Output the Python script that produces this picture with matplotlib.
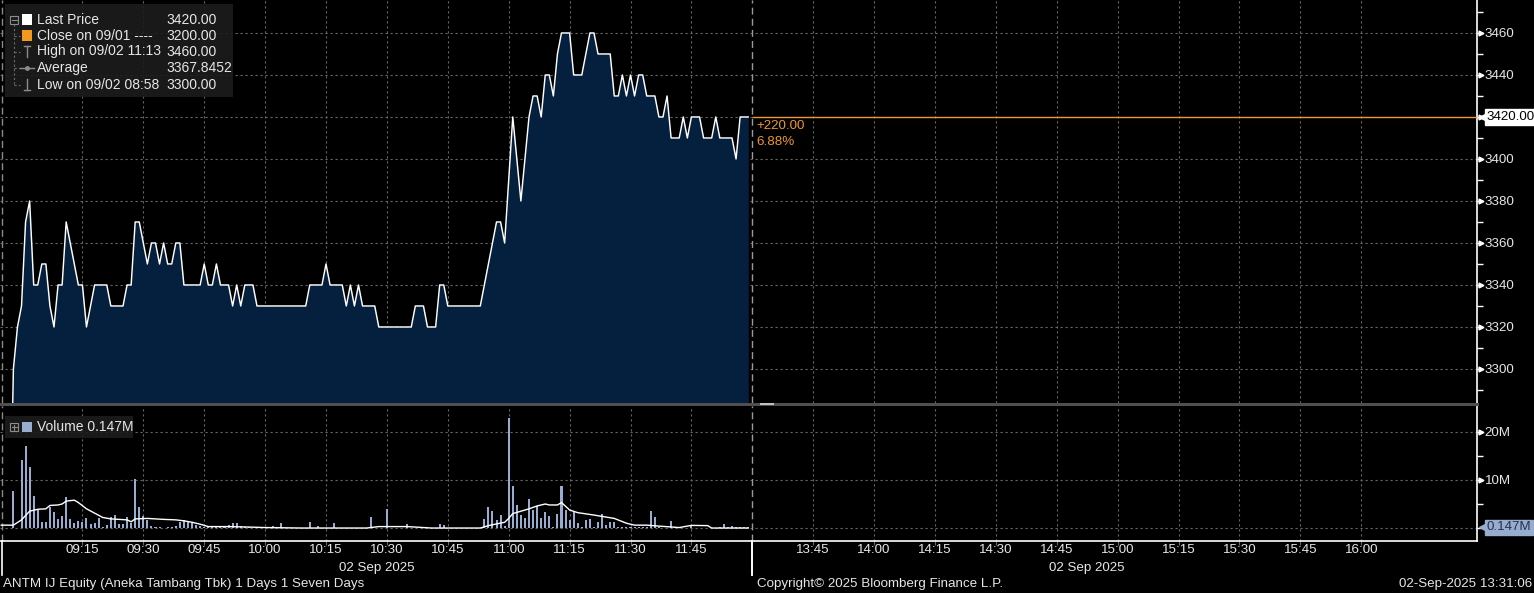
import matplotlib
matplotlib.use("Agg")
import matplotlib.pyplot as plt
import matplotlib.transforms as mtransforms
from matplotlib.patches import Rectangle
from matplotlib.lines import Line2D
import pandas as pd

# ---------------- data ----------------
price_times = pd.date_range("2025-09-02 08:57", "2025-09-02 11:59", freq="1min").strftime("%H:%M").tolist()

price = [
    3200, 3300, 3320,                                                   # 08:57-08:59
    3330, 3370, 3380, 3340, 3340, 3350, 3350, 3330, 3320, 3340,         # 09:00
    3340, 3370, 3360, 3350, 3340, 3340, 3320, 3330, 3340, 3340,         # 09:10
    3340, 3340, 3330, 3330, 3330, 3330, 3340, 3340, 3370, 3370,         # 09:20
    3360, 3350, 3360, 3360, 3350, 3360, 3350, 3350, 3360, 3360,         # 09:30
    3340, 3340, 3340, 3340, 3340, 3350, 3340, 3340, 3350, 3340,         # 09:40
    3340, 3340, 3330, 3340, 3330, 3340, 3340, 3340, 3330, 3330,         # 09:50
    3330, 3330, 3330, 3330, 3330, 3330, 3330, 3330, 3330, 3330,         # 10:00
    3330, 3340, 3340, 3340, 3340, 3350, 3340, 3340, 3340, 3340,         # 10:10
    3330, 3340, 3330, 3340, 3330, 3330, 3330, 3330, 3320, 3320,         # 10:20
    3320, 3320, 3320, 3320, 3320, 3320, 3320, 3330, 3330, 3330,         # 10:30
    3320, 3320, 3320, 3340, 3340, 3330, 3330, 3330, 3330, 3330,         # 10:40
    3330, 3330, 3330, 3330, 3340, 3350, 3360, 3370, 3370, 3360,         # 10:50
    3390, 3420, 3400, 3380, 3400, 3420, 3430, 3430, 3420, 3440,         # 11:00
    3440, 3430, 3450, 3460, 3460, 3460, 3440, 3440, 3440, 3450,         # 11:10
    3460, 3460, 3450, 3450, 3450, 3450, 3430, 3430, 3440, 3430,         # 11:20
    3440, 3430, 3440, 3440, 3430, 3430, 3430, 3420, 3420, 3430,         # 11:30
    3410, 3410, 3410, 3420, 3410, 3420, 3420, 3420, 3410, 3410,         # 11:40
    3410, 3420, 3410, 3410, 3410, 3410, 3400, 3420, 3420, 3420,         # 11:50
]

volume_m = [
    0.0, 7.7, 0.0,                                                      # 08:57-08:59
    14.2, 17.1, 12.6, 6.7, 3.9, 1.3, 1.2, 4.4, 3.3, 1.9,                # 09:00
    2.5, 6.5, 1.9, 1.1, 1.5, 1.2, 2.1, 0.9, 1.0, 2.0,                   # 09:10
    0.3, 0.6, 2.3, 2.7, 0.8, 0.8, 2.2, 1.0, 10.3, 4.4,                  # 09:20
    2.6, 1.7, 0.5, 0.3, 0.3, 0.1, 0.3, 0.3, 0.4, 1.25,                  # 09:30
    1.6, 1.2, 1.0, 0.6, 0.5, 0.3, 0.15, 0.15, 0.15, 0.2,                # 09:40
    0.35, 0.6, 1.0, 1.0, 0.4, 0.3, 0.2, 0.1, 0.1, 0.1,                  # 09:50
    0.1, 0.1, 0.35, 0.1, 1.0, 0.1, 0.1, 0.1, 0.1, 0.05,                 # 10:00
    0.1, 1.2, 0.1, 0.35, 0.1, 0.1, 0.1, 1.0, 0.1, 0.1,                  # 10:10
    0.1, 0.1, 0.1, 0.1, 0.1, 0.1, 2.2, 0.1, 0.1, 0.1,                   # 10:20
    4.0, 0.1, 0.1, 0.1, 0.1, 0.8, 0.1, 0.1, 0.1, 0.1,                   # 10:30
    0.1, 0.1, 0.1, 0.8, 0.6, 0.1, 0.1, 0.1, 0.1, 0.1,                   # 10:40
    0.1, 0.1, 0.1, 0.1, 1.9, 4.4, 3.5, 1.7, 2.7, 0.5,                   # 10:50
    23.0, 8.75, 4.8, 2.7, 2.1, 6.0, 3.75, 4.6, 2.1, 3.3,                # 11:00
    2.4, 0.2, 2.9, 8.75, 3.75, 1.6, 3.5, 1.1, 0.2, 1.7,                 # 11:10
    1.9, 0.2, 1.25, 2.9, 0.7, 1.25, 1.25, 0.2, 0.15, 0.15,              # 11:20
    0.15, 0.15, 0.15, 0.15, 0.15, 3.5, 2.3, 0.2, 0.1, 0.1,              # 11:30
    1.5, 0.2, 0.1, 0.1, 0.1, 0.4, 0.1, 0.1, 0.1, 0.1,                   # 11:40
    0.1, 0.1, 0.2, 0.8, 0.2, 0.4, 0.2, 0.2, 0.2, 0.15,                  # 11:50
]

avg_times = ["08:55", "08:58", "09:00", "09:02", "09:04", "09:06", "09:07", "09:09", "09:10",
             "09:11", "09:13", "09:14", "09:16", "09:18", "09:20", "09:22", "09:26", "09:27",
             "09:28", "09:31", "09:35", "09:38", "09:40", "09:42", "09:44", "09:46", "09:51",
             "09:56", "10:00", "10:09", "10:17", "10:25", "10:28", "10:35", "10:41", "10:53",
             "10:55", "10:59", "11:00", "11:01", "11:05", "11:07", "11:09", "11:10", "11:12",
             "11:13", "11:15", "11:17", "11:21", "11:26", "11:29", "11:31", "11:34", "11:37",
             "11:42", "11:45", "11:49", "11:50", "11:59"]
avg_vol_m = [0.6, 0.6, 1.7, 3.5, 3.9, 4.0, 4.7, 4.8, 5.0,
             5.6, 5.8, 5.3, 4.0, 3.1, 2.2, 1.9, 1.7, 1.3,
             1.9, 2.0, 1.8, 1.7, 1.5, 1.2, 0.8, 0.3, 0.3,
             0.2, 0.1, 0.0, 0.0, 0.0, 0.3, 0.3, 0.0, 0.0,
             0.5, 1.2, 2.0, 3.0, 4.0, 4.6, 5.0, 4.8, 4.8,
             5.3, 3.75, 3.2, 2.7, 2.0, 1.0, 0.6, 0.6, 0.4,
             0.1, 0.55, 0.5, 0.0, 0.0]

x_tick_labels = ["09:15", "09:30", "09:45", "10:00", "10:15", "10:30", "10:45", "11:00", "11:15",
                 "11:30", "11:45", "13:45", "14:00", "14:15", "14:30", "14:45", "15:00", "15:15",
                 "15:30", "15:45", "16:00"]
price_ticks = [3300, 3320, 3340, 3360, 3380, 3400, 3420, 3440, 3460]
price_minor_ticks = [3290, 3310, 3330, 3350, 3370, 3390, 3410, 3430, 3450, 3470]
vol_ticks = [0, 10, 20]
vol_tick_labels = ["", "10M", "20M"]
vol_minor_ticks = [5, 15]

last_price = 3420.00
prev_close = 3200.00
legend_names = ["Last Price", "Close on 09/01 ----", "High on 09/02 11:13", "Average", "Low on 09/02 08:58"]
legend_values = ["3420.00", "3200.00", "3460.00", "3367.8452", "3300.00"]
volume_last_m = 0.147
session_edges = [("08:55", "12:00"), ("13:30", "16:15")]
date_label = "02 Sep 2025"
footer_left = "ANTM IJ Equity (Aneka Tambang Tbk) 1 Days 1 Seven Days"
footer_mid = "Copyright\u00a9 2025 Bloomberg Finance L.P."
footer_right = "02-Sep-2025 13:31:06"

# ---------------- helpers ----------------
def tx(s):
    h, m = map(int, s.split(":"))
    t = h * 60 + m - 9 * 60
    return t - 90 if t >= 270 else t

W, H = 1534, 593
plt.rcParams["font.family"] = ["Liberation Sans", "DejaVu Sans"]
FS = 9.6
TXT = "#e6e6e6"
GRID = "#666666"
NAVY = "#05203f"
ORANGE = "#f0962e"
VOLC = "#98acd0"

def fx(x):
    return x / W

def fy(y):
    return 1 - y / H

fig = plt.figure(figsize=(W / 100, H / 100), dpi=100, facecolor="black")
ax = fig.add_axes([0, fy(403), fx(1477), 403 / H])
axv = fig.add_axes([0, fy(541), fx(1477), (541 - 406) / H])

xs = [tx(t) for t in price_times]
xlim = (tx("08:55") - 0.3, tx("16:28") + 0.5)
tick_x = [tx(s) for s in x_tick_labels]

for a in (ax, axv):
    a.set_facecolor("black")
    a.set_xlim(*xlim)
    for s in ("left", "top", "bottom"):
        a.spines[s].set_visible(False)
    a.spines["right"].set_color("white")
    a.spines["right"].set_linewidth(1.2)
    a.set_xticks(tick_x)
    a.xaxis.grid(True, color=GRID, linestyle=(0, (2, 2.5)), linewidth=0.8)
    a.yaxis.grid(True, which="major", color=GRID, linestyle=(0, (2, 2.5)), linewidth=0.8)
    a.set_axisbelow(True)
    a.yaxis.tick_right()
    for e0, e1 in session_edges[:1]:
        a.axvline(tx(e0) + 0.2, color="#8a8a8a", lw=1.0, ls=(0, (5, 3)), zorder=1)
        a.axvline(tx(e1), color="#9a9a9a", lw=1.0, ls=(0, (5, 3)), zorder=4)

# ---------------- price panel ----------------
ax.set_ylim(3283.8, 3475.7)
ax.fill_between(xs, price, 3200, color=NAVY, lw=0, zorder=2)
ax.plot(xs, price, color="white", lw=1.05, zorder=3)
ax.hlines(last_price, tx("12:00"), xlim[1], color=ORANGE, lw=1.0, zorder=3)

ax.set_yticks(price_ticks)
ax.set_yticklabels(["" if v == last_price else str(v) for v in price_ticks])
ax.set_yticks(price_minor_ticks, minor=True)
ax.tick_params(axis="y", which="major", length=3, width=1, color="white", pad=2.5,
               labelsize=FS, labelcolor=TXT)
ax.tick_params(axis="y", which="minor", length=4, width=1, color="white")
ax.tick_params(axis="x", length=0, labelbottom=False)

yt = ax.get_yaxis_transform()
arrow_off = mtransforms.ScaledTranslation(3.5 / 100, 0, fig.dpi_scale_trans)
ax.plot([1] * len(price_ticks), price_ticks, ls="none", marker=">", ms=3.5, color="white",
        transform=yt + arrow_off, clip_on=False)

chg = last_price - prev_close
ax.annotate(f"+{chg:.2f}", (tx("12:00"), last_price), xytext=(3, -6.5), textcoords="offset points",
            color=ORANGE, fontsize=FS, va="center", ha="left")
ax.annotate(f"{chg / prev_close * 100:.2f}%", (tx("12:00"), last_price), xytext=(3, -18),
            textcoords="offset points", color=ORANGE, fontsize=FS, va="center", ha="left")

lp_off = mtransforms.ScaledTranslation(9.5 / 100, 0, fig.dpi_scale_trans)
ax.text(1, last_price, f"{last_price:.2f}", transform=yt + lp_off, ha="left", va="center",
        fontsize=FS, color="black", clip_on=False, zorder=10,
        bbox=dict(boxstyle="square,pad=0.12", fc="white", ec="white"))
tri_off = mtransforms.ScaledTranslation(6.5 / 100, 0, fig.dpi_scale_trans)
ax.plot([1], [last_price], marker="<", ms=7, color="white", transform=yt + tri_off,
        clip_on=False, zorder=9)

# ---------------- volume panel ----------------
axv.set_ylim(-2.7, 25.4)
axv.bar([tx(t) for t in price_times], volume_m, width=0.5, color=VOLC, lw=0, zorder=2)
axv.plot([tx(t) for t in avg_times], avg_vol_m, color="white", lw=1.0, zorder=3)
axv.set_yticks(vol_ticks)
axv.set_yticklabels(vol_tick_labels)
axv.set_yticks(vol_minor_ticks, minor=True)
axv.tick_params(axis="y", which="major", length=3, width=1, color="white", pad=2.5,
                labelsize=FS, labelcolor=TXT)
axv.tick_params(axis="y", which="minor", length=4, width=1, color="white")
yv = axv.get_yaxis_transform()
axv.plot([1] * 2, vol_ticks[1:], ls="none", marker=">", ms=3.5, color="white",
         transform=yv + arrow_off, clip_on=False)
axv.spines["bottom"].set_visible(True)
axv.spines["bottom"].set_color("white")
axv.spines["bottom"].set_linewidth(1.2)
axv.set_xticklabels(x_tick_labels)
axv.tick_params(axis="x", length=3, color=GRID, pad=-0.5, labelsize=FS, labelcolor=TXT)

axv.text(1, volume_last_m, f"{volume_last_m:.3f}M", transform=yv + lp_off, ha="left", va="center",
         fontsize=FS, color="#25324d", clip_on=False, zorder=10,
         bbox=dict(boxstyle="square,pad=0.12", fc=VOLC, ec=VOLC))
axv.plot([1], [volume_last_m], marker="<", ms=7, color=VOLC, transform=yv + tri_off,
         clip_on=False, zorder=9)

# session separators below the axis and date labels
bt = mtransforms.blended_transform_factory(axv.transData, fig.transFigure)
for e0, e1 in session_edges:
    for e in (e0, e1):
        if e == "16:15":
            continue
        xv = tx(e) + (0.2 if e == "08:55" else 0)
        fig.add_artist(Line2D([xv, xv], [fy(541), fy(575)], color="white", lw=1.2, transform=bt))
    fig.text((tx(e0) + tx(e1)) / 2, fy(567.5), date_label, transform=bt, ha="center", va="center",
             fontsize=FS, color=TXT)

# panel separator
fig.add_artist(Rectangle((0, fy(406)), fx(1479), 3.5 / H, transform=fig.transFigure,
                         color="#4f4f4f", lw=0))
fig.add_artist(Rectangle((fx(760), fy(405.3)), fx(14), 2.6 / H, transform=fig.transFigure,
                         color="#c0c0c0", lw=0))
fig.add_artist(Rectangle((fx(760), fy(404.3)), fx(14), 0.7 / H, transform=fig.transFigure,
                         color="#606060", lw=0))

# ---------------- legends ----------------
fig.add_artist(Rectangle((fx(5), fy(97)), fx(228), 93 / H, transform=fig.transFigure,
                         color="#1c1c1c", alpha=0.9, lw=0, zorder=5))
rows = [19.5, 35.5, 51.5, 68, 84.5]
icon_c = "#8c8c8c"
fig.add_artist(Line2D([fx(14), fx(14)], [fy(24), fy(84)], color="#6a6a6a", lw=0.8,
                      ls=(0, (2, 2)), transform=fig.transFigure, zorder=6))
for r in rows[1:]:
    fig.add_artist(Line2D([fx(14), fx(20)], [fy(r), fy(r)], color="#6a6a6a", lw=0.8,
                          ls=(0, (2, 2)), transform=fig.transFigure, zorder=6))
fig.add_artist(Rectangle((fx(10), fy(23.5)), fx(8), 8 / H, transform=fig.transFigure,
                         fill=False, ec=icon_c, lw=0.8, zorder=6))
fig.add_artist(Line2D([fx(11.5), fx(16.5)], [fy(19.5), fy(19.5)], color=icon_c, lw=0.8,
                      transform=fig.transFigure, zorder=6))
fig.add_artist(Rectangle((fx(22), fy(24.5)), fx(10), 10 / H, transform=fig.transFigure,
                         color="white", lw=0, zorder=6))
fig.add_artist(Rectangle((fx(22), fy(40.5)), fx(10), 10 / H, transform=fig.transFigure,
                         color="#f39a1e", lw=0, zorder=6))
for seg in (([27, 27], [46, 57]), ([24, 30], [46, 46])):
    fig.add_artist(Line2D([fx(v) for v in seg[0]], [fy(v) for v in seg[1]], color=icon_c, lw=1,
                          transform=fig.transFigure, zorder=6))
fig.add_artist(Line2D([fx(20), fx(34)], [fy(68), fy(68)], color=icon_c, lw=1,
                      transform=fig.transFigure, zorder=6))
fig.add_artist(Line2D([fx(27)], [fy(68)], color=icon_c, marker="o", ms=2.5,
                      transform=fig.transFigure, zorder=6))
for seg in (([27, 27], [79, 90]), ([24, 30], [90, 90])):
    fig.add_artist(Line2D([fx(v) for v in seg[0]], [fy(v) for v in seg[1]], color=icon_c, lw=1,
                          transform=fig.transFigure, zorder=6))
for r, name, val in zip(rows, legend_names, legend_values):
    fig.text(fx(37), fy(r), name, ha="left", va="center", fontsize=FS + 0.4, color=TXT, zorder=7)
    fig.text(fx(166), fy(r), val, ha="left", va="center", fontsize=FS + 0.4, color=TXT, zorder=7)

# volume legend
fig.add_artist(Rectangle((fx(5), fy(438)), fx(128), 22 / H, transform=fig.transFigure,
                         color="#1c1c1c", alpha=0.9, lw=0, zorder=5))
fig.add_artist(Rectangle((fx(10), fy(431)), fx(8), 8 / H, transform=fig.transFigure,
                         fill=False, ec=icon_c, lw=0.8, zorder=6))
fig.add_artist(Line2D([fx(11.5), fx(16.5)], [fy(427), fy(427)], color=icon_c, lw=0.8,
                      transform=fig.transFigure, zorder=6))
fig.add_artist(Line2D([fx(14), fx(14)], [fy(424.5), fy(429.5)], color=icon_c, lw=0.8,
                      transform=fig.transFigure, zorder=6))
fig.add_artist(Rectangle((fx(22), fy(432)), fx(10), 10 / H, transform=fig.transFigure,
                         color=VOLC, lw=0, zorder=6))
fig.text(fx(37), fy(427), f"Volume {volume_last_m:.3f}M", ha="left", va="center",
         fontsize=FS + 0.4, color=TXT, zorder=7)

# footer
fig.text(fx(3), fy(584.5), footer_left, ha="left", va="center", fontsize=FS, color=TXT)
fig.text(fx(757), fy(584.5), footer_mid, ha="left", va="center", fontsize=FS, color=TXT)
fig.text(fx(1532), fy(584.5), footer_right, ha="right", va="center", fontsize=FS, color=TXT)

fig.savefig("out.png", dpi=100, facecolor="black")
